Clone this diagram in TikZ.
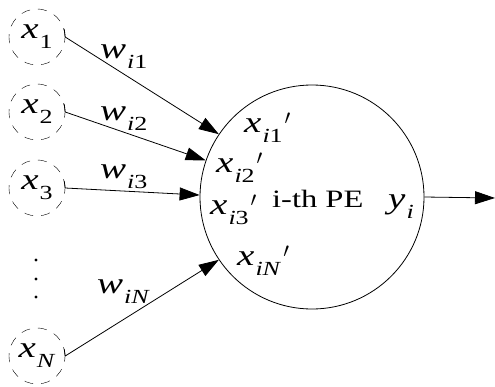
\documentclass[tikz,border=0pt]{standalone}
\usepackage{fontspec}
\setmainfont{Liberation Serif}[FakeStretch=1.3]
\usepackage{tikz}
\usetikzlibrary{arrows.meta, calc}
% fonts for the variables
\newcommand{\bigf}{\fontsize{30}{30}\selectfont}
\newcommand{\subf}{\fontsize{20}{20}\selectfont}
% \sv{base}{subscript}: italic variable with lowered subscript
\newcommand{\sv}[2]{\textit{#1}\kern1pt\raisebox{-10pt}{\subf #2}}
\newcommand{\pr}{\raisebox{8pt}{\subf\kern2pt$\prime$}}
\tikzset{
  inp/.style={draw, dash pattern=on 9pt off 8pt, circle, minimum size=56pt, inner sep=0pt, font=\bigf},
  pe/.style={draw, circle, minimum size=224pt, inner sep=0pt, line width=0.8pt},
  lbl/.style={anchor=base west, inner sep=0pt, font=\bigf},
  arr/.style={-{Triangle[length=20pt, width=13pt]}, line width=0.8pt},
}
\begin{document}
\begin{tikzpicture}[x=1pt, y=-1pt]
  \useasboundingbox (0,0) rectangle (495,386);
  % ---- inputs
  \node[inp] (x1) at (37,37) {\sv{x}{1}};
  \node[inp] (x2) at (37,112) {\sv{x}{2}};
  \node[inp] (x3) at (37,188) {\sv{x}{3}};
  \node[inp] (xN) at (37,356) {\sv{x}{\textit{N}}};
  \foreach \y in {260,279,297} \fill (36,\y) circle (1.6pt);
  % ---- processing element
  \node[pe] (pe) at (312,197) {};
  \node[anchor=base west, inner sep=0pt, font=\fontsize{25}{25}\selectfont] (name) at (272,207) {i-th PE};
  \node[lbl] (xi1) at (244,132) {\sv{x}{\textit{i}1}\pr};
  \node[lbl] (xi2) at (216,172) {\sv{x}{\textit{i}2}\pr};
  \node[lbl] (xi3) at (210,214) {\sv{x}{\textit{i}3}\pr};
  \node[lbl] (xiN) at (237,265) {\sv{x}{\textit{iN}}\pr};
  \node[lbl] (yi) at (388,208) {\sv{y}{\textit{i}}};
  % ---- weighted connections
  \draw[arr] ($(x1.east)+(-1,-8)$) -- (x1.east) -- (pe.146.5);
  \draw[arr] ($(x2.east)+(-1,-8)$) -- (x2.east) -- (pe.161.5);
  \draw[arr] ($(x3.east)+(-1,-7)$) -- (x3.east) -- (pe.179.5);
  \draw[arr] ($(xN.east)+(-1,-7)$) -- (xN.east) -- (pe.214);
  \node[lbl] (wi1) at (100,58) {\sv{w}{\textit{i}1}};
  \node[lbl] (wi2) at (100,120) {\sv{w}{\textit{i}2}};
  \node[lbl] (wi3) at (100,178) {\sv{w}{\textit{i}3}};
  \node[lbl] (wiN) at (97,293) {\sv{w}{\textit{iN}}};
  % ---- output
  \coordinate (out) at (495,198);
  \draw[arr] (pe.east) -- (out);
\end{tikzpicture}
\end{document}
